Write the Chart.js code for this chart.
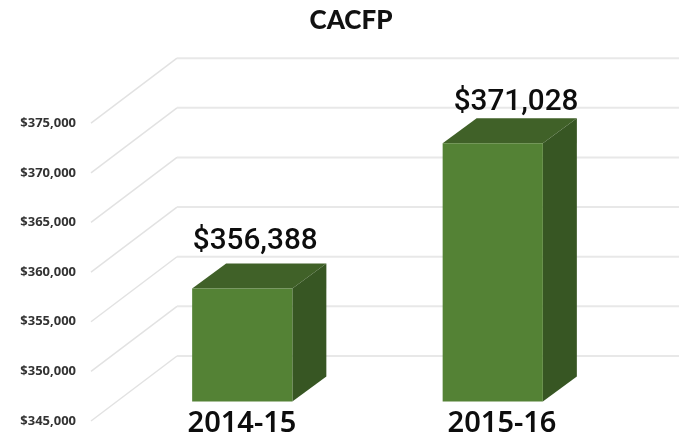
<!DOCTYPE html>
<html>
<head>
<meta charset="utf-8">
<title>CACFP</title>
<style>html,body{margin:0;padding:0;background:#fff}canvas{display:block}</style>
<script src="https://cdn.jsdelivr.net/npm/chart.js@4/dist/chart.umd.min.js"></script>
</head>
<body>
<canvas id="c" width="679" height="441"></canvas>
<script>
const categories = ['2014-15', '2015-16'];
const values = [356388, 371028];
const axisMin = 345000;
const axisMax = 375000;
const axisStep = 5000;
const chartTitle = 'CACFP';

// Fraction of the plot width at which each category label is centred
const categoryLabelAt = [0.2495, 0.7685];

// 3D look
const wall = {frontInset: 26, dx: 86, dy: -65, color: '#e8e8e8', sideColor: '#e2e2e2'};
const barPlaneLift = -19.5;
const barDepth = {dx: 34, dy: -25};
const faceColor = '#548235';
const topColor = '#406128';
const sideColor = '#375623';
const valueLabelShift = [{x: 13, y: -47}, {x: 23.3, y: -41}];

const money = v => '$' + Number(v).toLocaleString('en-US');

const threeD = {
  id: 'threeD',
  afterLayout(chart) {
    // Keep the tick labels from being clipped by the axis box
    chart.scales.y.left = 0;
  },
  beforeDatasetsDraw(chart) {
    const {ctx, chartArea, scales} = chart;
    const y = scales.y;
    ctx.save();
    y.ticks.forEach(t => {
      const py = y.getPixelForValue(t.value);
      const x0 = chartArea.left - wall.frontInset;
      const x1 = x0 + wall.dx;
      const by = py + wall.dy;
      ctx.lineWidth = 1.5;
      ctx.strokeStyle = wall.sideColor;
      ctx.beginPath();
      ctx.moveTo(x0, py);
      ctx.lineTo(x1, by);
      ctx.stroke();
      ctx.lineWidth = 2;
      ctx.strokeStyle = wall.color;
      ctx.beginPath();
      ctx.moveTo(x1, by);
      ctx.lineTo(chart.width, by);
      ctx.stroke();
    });
    ctx.restore();
    // Lift the bars off the front edge of the floor
    ctx.save();
    ctx.translate(0, barPlaneLift);
    chart.getDatasetMeta(0).data.forEach(bar => {
      const l = bar.x - bar.width / 2, r = bar.x + bar.width / 2;
      const t = bar.y, b = bar.base;
      const {dx, dy} = barDepth;
      ctx.fillStyle = topColor;
      ctx.beginPath();
      ctx.moveTo(l, t); ctx.lineTo(l + dx, t + dy); ctx.lineTo(r + dx, t + dy); ctx.lineTo(r, t);
      ctx.closePath(); ctx.fill();
      ctx.fillStyle = sideColor;
      ctx.beginPath();
      ctx.moveTo(r, t); ctx.lineTo(r + dx, t + dy); ctx.lineTo(r + dx, b + dy); ctx.lineTo(r, b);
      ctx.closePath(); ctx.fill();
    });
  },
  afterDatasetsDraw(chart) {
    const {ctx} = chart;
    ctx.restore();
    ctx.save();
    ctx.font = '500 29.7px Roboto';
    ctx.fillStyle = '#0d0d0d';
    ctx.textAlign = 'center';
    ctx.textBaseline = 'middle';
    chart.getDatasetMeta(0).data.forEach((bar, i) => {
      const s = valueLabelShift[i];
      ctx.fillText(money(values[i]), bar.x + s.x, bar.y + barPlaneLift + s.y);
    });
    ctx.restore();
  }
};

new Chart(document.getElementById('c'), {
  type: 'bar',
  data: {
    labels: categories,
    datasets: [{
      data: values,
      base: axisMin,
      backgroundColor: faceColor,
      borderWidth: 0,
      categoryPercentage: 1,
      barPercentage: 0.4,
      clip: false,
      xAxisID: 'x',
      yAxisID: 'y'
    }]
  },
  options: {
    responsive: false,
    animation: false,
    layout: {padding: {left: 23, right: 0, top: 0, bottom: 0}},
    plugins: {
      legend: {display: false},
      tooltip: {enabled: false},
      title: {
        display: true,
        text: chartTitle,
        color: '#111',
        font: {family: 'Lato', size: 26, weight: '900'},
        padding: {top: 5, bottom: 87}
      }
    },
    scales: {
      x: {display: false, type: 'category', offset: true},
      xLabels: {
        type: 'linear',
        position: 'bottom',
        offset: false,
        min: 0,
        max: 1,
        grid: {display: false, drawTicks: false},
        border: {display: false},
        afterBuildTicks(scale) { scale.ticks = categoryLabelAt.map(value => ({value})); },
        afterFit(scale) { scale.height = 20; scale.paddingRight = 61; scale.paddingLeft = 0; },
        ticks: {
          autoSkip: false,
          maxRotation: 0,
          mirror: true,
          padding: -20,
          color: '#0d0d0d',
          font: {family: 'Noto Sans', size: 29, weight: '600'},
          callback: (v, i) => categories[i]
        }
      },
      y: {
        type: 'linear',
        min: axisMin,
        max: axisMax,
        grid: {display: false, drawTicks: false},
        border: {display: false},
        afterFit(scale) { scale.width = 94; scale.paddingTop = 0; scale.paddingBottom = 0; },
        ticks: {
          stepSize: axisStep,
          padding: 41,
          color: '#333333',
          font: {family: 'Open Sans', size: 13, weight: 'bold'},
          callback: v => money(v)
        }
      }
    }
  },
  plugins: [threeD]
});
</script>
</body>
</html>
